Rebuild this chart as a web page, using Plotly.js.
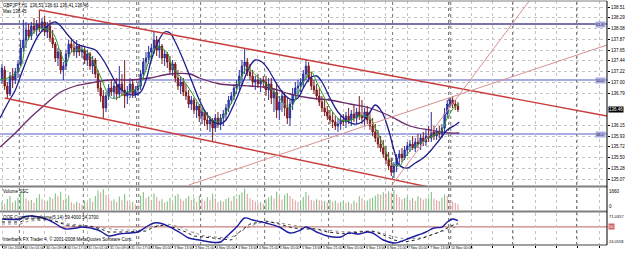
<!DOCTYPE html>
<html><head><meta charset="utf-8">
<script src="https://cdn.plot.ly/plotly-3.0.1.min.js"></script>
<style>html,body{margin:0;padding:0;background:#fff}#c{width:625px;height:253px}</style>
</head><body><div id="c"></div><script>
const openP=[137.05,137.25,136.93,136.77,137.13,137.05,137.21,137.37,137.69,137.85,
138.05,137.93,138.13,138.05,138.17,138.09,138.21,138.01,138.13,137.89,
137.77,137.49,137.61,137.25,137.33,137.57,137.77,137.69,137.61,137.73,
137.61,137.65,137.45,137.57,137.33,137.45,137.17,136.89,136.73,136.49,
136.73,136.89,136.81,136.93,136.77,136.97,136.85,136.73,136.81,136.97,
136.77,136.85,136.93,137.17,137.41,137.49,137.61,137.69,137.85,137.65,
137.73,137.49,137.57,137.41,137.25,137.37,137.09,136.93,137.01,136.81,
136.73,136.57,136.65,136.45,136.53,136.33,136.41,136.25,136.17,136.25,
136.09,136.29,136.17,136.29,136.37,136.49,136.65,136.73,136.89,136.97,
137.13,137.33,137.41,137.21,137.13,137.01,137.05,136.97,137.05,137.01,
136.85,136.97,136.69,136.81,136.45,136.61,136.73,136.49,136.29,136.57,
136.77,136.89,136.93,137.01,137.17,137.33,137.09,136.93,136.85,136.73,
136.61,136.49,136.41,136.33,136.25,136.21,136.13,136.17,136.25,136.21,
136.33,136.25,136.37,136.29,136.41,136.33,136.29,136.41,136.25,136.13,
136.01,135.89,135.77,135.69,135.57,135.45,135.33,135.21,135.33,135.49,
135.57,135.49,135.65,135.73,135.77,135.69,135.81,135.77,135.89,135.81,
135.93,135.89,136.01,135.93,136.01,135.97,136.09,136.37,136.57,136.65,
136.57,136.53];
const highP=[137.37,137.33,137.01,137.21,137.29,137.29,137.45,137.85,138.25,138.21,
138.17,138.21,138.29,138.25,138.45,138.29,138.33,138.21,138.25,138.05,
137.81,137.69,137.65,137.41,137.65,137.85,137.89,137.81,137.85,137.77,
137.73,137.73,137.65,137.61,137.53,137.49,137.25,137.01,136.85,136.81,
136.97,137.05,137.01,137.09,137.33,137.17,137.45,136.93,137.09,137.05,
136.93,137.01,137.25,137.49,137.61,137.73,137.77,138.01,137.93,137.85,
137.77,137.65,137.61,137.53,137.45,137.41,137.25,137.13,137.09,136.97,
136.85,136.73,136.69,136.61,136.57,136.49,136.45,136.41,136.33,136.29,
136.37,136.41,136.37,136.45,136.57,136.73,136.81,136.97,137.05,137.25,
137.45,137.69,137.49,137.37,137.25,137.13,137.17,137.09,137.13,137.13,
137.09,137.09,136.89,137.01,136.73,136.85,136.81,136.69,136.65,136.89,
137.01,137.05,137.09,137.25,137.45,137.41,137.21,137.05,136.97,136.89,
136.73,136.65,136.53,136.45,136.41,136.33,136.29,136.33,136.37,136.41,
136.49,136.45,136.57,136.49,136.73,136.65,136.49,136.53,136.41,136.29,
136.17,136.05,135.93,135.85,135.73,135.61,135.49,135.41,135.57,135.65,
135.69,135.73,135.81,135.85,135.93,135.89,135.97,135.97,136.01,136.05,
136.13,136.41,136.13,136.09,136.13,136.17,136.49,136.65,136.69,136.73,
136.65,136.61];
const lowP=[136.97,136.85,136.69,136.73,136.89,136.97,137.09,137.33,137.61,137.69,
137.85,137.85,137.97,137.93,138.01,138.01,137.93,137.89,137.81,137.69,
137.41,137.33,137.17,137.05,137.25,137.49,137.61,137.53,137.49,137.53,
137.49,137.37,137.33,137.25,137.17,137.09,136.81,136.61,136.29,136.41,
136.65,136.73,136.69,136.65,136.69,136.73,136.49,136.57,136.69,136.69,
136.69,136.73,136.85,137.09,137.25,137.37,137.45,137.57,137.53,137.49,
137.37,137.33,137.29,137.17,137.13,137.01,136.85,136.77,136.73,136.65,
136.49,136.45,136.37,136.29,136.21,136.17,136.13,136.05,136.01,135.81,
136.01,136.09,136.05,136.13,136.25,136.41,136.57,136.65,136.77,136.85,
136.93,137.17,137.13,137.05,136.93,136.85,136.89,136.81,136.89,136.73,
136.65,136.57,136.41,136.29,136.25,136.41,136.33,136.17,136.13,136.45,
136.65,136.73,136.81,136.89,137.05,137.01,136.85,136.77,136.65,136.53,
136.41,136.33,136.25,136.17,136.09,136.05,136.01,136.05,136.13,136.09,
136.17,136.13,136.21,136.17,136.25,136.17,136.13,136.17,136.05,135.93,
135.81,135.69,135.61,135.49,135.37,135.25,135.13,135.09,135.21,135.37,
135.41,135.45,135.53,135.61,135.65,135.61,135.69,135.65,135.73,135.73,
135.81,135.81,135.85,135.85,135.89,135.89,136.01,136.29,136.49,136.49,
136.45,136.41];
const closeP=[137.29,136.93,136.77,137.13,137.05,137.21,137.37,137.69,137.85,138.05,
137.93,138.13,138.05,138.17,138.09,138.21,138.01,138.13,137.89,137.77,
137.49,137.61,137.25,137.33,137.57,137.77,137.69,137.61,137.73,137.61,
137.65,137.45,137.57,137.33,137.45,137.17,136.89,136.73,136.49,136.73,
136.89,136.81,136.93,136.77,136.97,136.85,136.73,136.81,136.97,136.77,
136.85,136.93,137.17,137.41,137.49,137.61,137.69,137.85,137.65,137.73,
137.49,137.57,137.41,137.25,137.37,137.09,136.93,137.01,136.81,136.73,
136.57,136.65,136.45,136.53,136.33,136.41,136.25,136.17,136.25,136.09,
136.29,136.17,136.29,136.37,136.49,136.65,136.73,136.89,136.97,137.13,
137.33,137.41,137.21,137.13,137.01,137.05,136.97,137.05,137.01,136.85,
136.97,136.69,136.81,136.45,136.61,136.73,136.49,136.29,136.57,136.77,
136.89,136.93,137.01,137.17,137.33,137.09,136.93,136.85,136.73,136.61,
136.49,136.41,136.33,136.25,136.21,136.13,136.17,136.25,136.21,136.33,
136.25,136.37,136.29,136.41,136.33,136.29,136.41,136.25,136.13,136.01,
135.89,135.77,135.69,135.57,135.45,135.33,135.21,135.33,135.49,135.57,
135.49,135.65,135.73,135.77,135.69,135.81,135.77,135.89,135.81,135.93,
135.89,136.01,135.93,136.01,135.97,136.09,136.37,136.57,136.65,136.57,
136.53,136.46];
const volume=[620,480,830,1050,560,720,940,1280,1420,880,
690,760,540,910,1190,820,640,700,980,860,
1250,1040,1380,760,920,1100,580,470,650,530,
410,720,560,880,640,1060,1480,1320,1560,1130,
940,700,820,610,1020,760,1180,690,540,620,
430,380,1080,1350,900,1010,760,1240,980,700,
820,560,640,900,530,1070,1210,830,690,880,
1050,760,940,620,1100,850,700,960,780,1240,
890,610,720,640,830,950,700,1060,880,1150,
1320,1600,1200,880,760,640,520,600,470,820,
940,1100,860,1370,1020,790,1150,1280,1060,840,
720,610,680,980,1350,1120,760,690,820,740,
620,700,560,780,640,720,530,600,680,550,
620,480,700,560,1040,880,640,720,850,930,
1080,1210,1150,1340,1240,1420,1300,1530,1180,960,
820,900,1020,760,880,690,1040,930,780,860,
920,1350,870,740,680,930,1190,1060,760,640,
520,430];
// moving averages (bar index, price)
const fastMAx=[-0.7,3,7,9,12,15,19,22,24,26,28,31,34,37,39,41,43,47,51,53,57,59,62,64,68,71,74,78,81,84,87,89,92,94,97,100,103,106,108,111,113,116,118,121,124,127,131,134,138,140,143,146,149,151,154,157,160,163,165,167,170,171.5];
const fastMAy=[137.05,137.11,137.31,137.79,138.01,138.09,137.99,137.59,137.39,137.61,137.65,137.65,137.45,137.11,136.85,136.69,136.69,136.81,136.89,137.11,137.65,137.71,137.59,137.31,137.05,136.81,136.55,136.29,136.21,136.41,136.69,137.01,137.29,137.21,137.05,136.93,136.75,136.57,136.49,136.77,137.01,137.21,137.01,136.69,136.41,136.25,136.25,136.33,136.29,136.09,135.75,135.41,135.33,135.49,135.69,135.79,135.89,135.97,136.05,136.29,136.53,136.57];
const midMAx=[-0.7,2,5,7.5,10.5,14,18,20,22,25,28,31.5,35,38,40.5,43.5,46.5,49.5,52,54,56,58.5,61,63,65,68,71,74,77,79.5,82,84,86,88.5,91,93,95,97.5,100,103,106,109,111,113,115.5,118,120,123,126,129,132,135,138,140,142.5,145,147,149,152,155,158,161,164,167,170,171.5];
const midMAy=[136.29,136.57,136.85,137.21,137.61,137.97,138.17,138.21,138.13,137.93,137.77,137.71,137.65,137.45,137.21,136.93,136.79,136.75,136.81,137.05,137.45,137.81,138.01,137.99,137.81,137.45,137.05,136.65,136.35,136.21,136.17,136.25,136.45,136.75,137.09,137.33,137.45,137.41,137.25,136.97,136.75,136.65,136.69,136.89,137.09,137.13,137.01,136.69,136.41,136.25,136.17,136.21,136.41,136.55,136.41,136.05,135.65,135.35,135.29,135.39,135.49,135.65,135.85,136.05,136.15,136.21];
const slowMAx=[-0.7,5,10.5,16,22,27.5,33,40.5,48,55.5,63,70.5,74,81.75,93,100.5,108,115.5,123,130.5,138,145.5,153,160.5,168,171.5];
const slowMAy=[135.71,135.99,136.29,136.55,136.81,136.93,136.99,137.05,137.05,137.09,137.17,137.17,137.09,136.97,136.93,136.89,136.77,136.69,136.65,136.57,136.49,136.33,136.13,136.05,135.99,135.99];
// oscillator (QQE)
const qqeX=[0,7,8,14,19,22,24,28,30,36,38,40,44,48,51,54,57,59,63,67,70,74,78,82,84,88,91,94,99,104,108,112,114,118,122,127,130,134,137,139,143,147,149,153,156,159,162,165,167,169,171];
const qqeY=[61.95,61.95,64.98,64.98,57.40,49.82,46.79,48.31,49.82,45.28,40.73,36.18,39.22,40.73,42.25,49.82,55.89,55.89,49.82,40.73,33.15,30.12,27.09,27.09,34.67,49.82,63.46,60.43,55.89,49.82,40.73,45.28,49.82,42.25,36.18,34.67,40.73,39.22,42.25,40.73,30.12,25.58,27.09,33.15,37.70,42.25,48.31,49.82,57.40,61.95,59.40];
const trailAx=[0,7,9,16,20,24,27,33,37,40,46,51,54,57,61,65,69,72,78,83,86,89,93,99,104,109,114,118,122,129,134,139,144,147,151,155,159,164,167,170,171];
const trailAy=[57.40,57.40,61.95,61.95,58.92,52.85,51.34,51.34,46.79,42.25,42.25,43.76,43.76,49.82,52.85,48.31,42.25,36.18,33.15,31.64,30.12,42.25,54.37,58.92,54.37,48.31,46.79,46.79,42.25,39.22,42.25,43.76,36.18,30.12,27.09,30.12,34.67,42.25,48.31,54.37,54.37];
const trailBx=[0,7,10,17,21,25,29,35,39,44,52,57,62,67,71,76,84,87,91,96,102,110,115,121,129,136,141,146,151,157,162,168,171];
const trailBy=[54.37,54.37,58.92,60.43,57.40,54.37,52.85,49.82,46.79,45.28,45.28,51.34,54.37,49.82,42.25,36.18,33.15,36.18,46.79,55.89,57.40,51.34,48.31,45.28,42.25,43.76,42.25,36.18,31.64,33.15,39.22,46.79,51.34];
// drawn objects (bar index / price)
const trendX0=[14,1,70.1,146.2], trendY0=[138.45,136.69,134.95,134.95];
const trendX1=[226.9,160,226.9,198], trendY1=[136.33,134.91,137.75,138.65];
const levelP=[138.17,137.05,135.97];
const levelTxt=['61.8','50.0','38.2'];
const qqeLevel=50;
const daySep=[7,31,51,75,99,123,147,168,192,216];
const weekSep=[51,168];
const tickBars=[0,8,16,24,32,40,48,56,64,72,80,88,96,104,112,120,128,136,144,152,160,168,176,184,192,200,208,216,224];
const tickText=["29 Oct 2008","30 Oct 01:00","30 Oct 09:00","30 Oct 17:00","31 Oct 01:00","31 Oct 09:00","31 Oct 17:00","3 Nov 05:00","3 Nov 13:00","3 Nov 21:00","4 Nov 05:00","4 Nov 13:00","4 Nov 21:00","5 Nov 05:00","5 Nov 13:00","5 Nov 21:00","6 Nov 05:00","6 Nov 13:00","6 Nov 21:00","7 Nov 05:00","7 Nov 13:00","10 Nov 00:00","","","","","","",""];
const priceTick0=138.51, priceStep=0.215;

const idx=closeP.map((_,i)=>i);
const F='Liberation Sans Narrow, Liberation Sans, Arial, sans-serif';
const lastClose=closeP[closeP.length-1];
const traces=[];
traces.push({type:'candlestick',x:idx,open:openP,high:highP,low:lowP,close:closeP,
  increasing:{line:{color:'#2a2f9a',width:1},fillcolor:'#3140c8'},
  decreasing:{line:{color:'#7a1a1a',width:1},fillcolor:'#9b1c1c'},
  whiskerwidth:0,hoverinfo:'skip',showlegend:false,xaxis:'x',yaxis:'y'});
traces.push({type:'scatter',mode:'lines',x:slowMAx,y:slowMAy,line:{color:'#6a2a6a',width:1.3,shape:'spline'},hoverinfo:'skip',showlegend:false,yaxis:'y'});
traces.push({type:'scatter',mode:'lines',x:midMAx,y:midMAy,line:{color:'#1c1c8c',width:1.3,shape:'spline'},hoverinfo:'skip',showlegend:false,yaxis:'y'});
traces.push({type:'scatter',mode:'lines',x:fastMAx,y:fastMAy,line:{color:'#2aa02a',width:1,shape:'spline'},hoverinfo:'skip',showlegend:false,yaxis:'y'});
const tCol=['#c83c3c','#c83c3c','#d89090','#d89090'];
const tW=[1.4,1.4,1,1];
for(let k=0;k<trendX0.length;k++){
  traces.push({type:'scatter',mode:'lines',x:[trendX0[k],trendX1[k]],y:[trendY0[k],trendY1[k]],line:{color:tCol[k],width:tW[k]},hoverinfo:'skip',showlegend:false,yaxis:'y'});
}
const volCol=volume.map((v,i)=> (i>0 && v<volume[i-1]) ? '#e0a0a0' : '#7fbf7f');
traces.push({type:'bar',x:idx,y:volume,width:0.4,marker:{color:volCol,line:{width:0}},hoverinfo:'skip',showlegend:false,yaxis:'y2'});
traces.push({type:'scatter',mode:'lines',x:trailBx,y:trailBy,line:{color:'#909090',width:1,dash:'dot'},hoverinfo:'skip',showlegend:false,yaxis:'y3'});
traces.push({type:'scatter',mode:'lines',x:trailAx,y:trailAy,line:{color:'#202020',width:1,dash:'dot'},hoverinfo:'skip',showlegend:false,yaxis:'y3'});
traces.push({type:'scatter',mode:'lines',x:qqeX,y:qqeY,line:{color:'#1c1ca0',width:1.4,shape:'spline'},hoverinfo:'skip',showlegend:false,yaxis:'y3'});

const shapes=[];
levelP.forEach((p,k)=>{
  shapes.push({type:'line',xref:'paper',x0:0,x1:1,yref:'y',y0:p,y1:p,layer:'below',
    line:{color:k===0?'#4a4a90':'#a8ace6',width:k===0?1.3:2}});
});
shapes.push({type:'line',xref:'paper',x0:0,x1:1,yref:'y3',y0:qqeLevel,y1:qqeLevel,layer:'below',line:{color:'#c06060',width:1}});
daySep.forEach(b=>{
  shapes.push({type:'line',xref:'x',x0:b-0.5,x1:b-0.5,yref:'paper',y0:0,y1:1,layer:'below',line:{color:'#707070',width:1,dash:'dot'}});
});
weekSep.forEach(b=>{
  shapes.push({type:'line',xref:'x',x0:b+0.3,x1:b+0.3,yref:'paper',y0:0,y1:1,layer:'below',line:{color:'#707070',width:1,dash:'dot'}});
});
[0.2398,0.1373].forEach(y=>shapes.push({type:'line',xref:'paper',x0:0,x1:1,yref:'paper',y0:y,y1:y,line:{color:'#808080',width:2}}));
shapes.push({type:'line',xref:'paper',x0:0,x1:1,yref:'paper',y0:0,y1:0,line:{color:'#808080',width:1.5}});
shapes.push({type:'line',xref:'paper',x0:0,x1:1,yref:'paper',y0:1,y1:1,line:{color:'#808080',width:1}});
shapes.push({type:'line',xref:'paper',x0:1,x1:1,yref:'paper',y0:0,y1:1,line:{color:'#000',width:1}});

const pTicks=[];
for(let p=priceTick0;p>134.93;p-=priceStep){ if(Math.abs(p-lastClose)>0.12) pTicks.push(+p.toFixed(3)); }

const ann=[];
const A=(o)=>Object.assign({showarrow:false,font:{family:F,size:4.5,color:'#000'},borderpad:0},o);
ann.push(A({xref:'paper',yref:'paper',x:0.004,y:1,yanchor:'top',xanchor:'left',yshift:-1,
  text:'GBPJPY,H1  '+openP[171].toFixed(2)+' '+highP[171].toFixed(2)+' '+lowP[171].toFixed(2)+' '+lastClose.toFixed(2)}));
ann.push(A({xref:'paper',yref:'paper',x:0.004,y:1,yanchor:'top',xanchor:'left',yshift:-7,text:'Max 138.45'}));
ann.push(A({xref:'paper',yref:'y',x:1,y:lastClose,xanchor:'left',bgcolor:'#000',font:{family:F,size:4.5,color:'#fff'},text:lastClose.toFixed(2),xshift:1}));
levelP.forEach((p,k)=>ann.push(A({xref:'paper',yref:'y',x:1,y:p,xanchor:'right',xshift:-1,bgcolor:'#aab0e6',font:{family:F,size:4,color:'#223'},text:levelTxt[k]})));
ann.push(A({xref:'paper',yref:'paper',x:0.004,y:0.2336,yanchor:'top',xanchor:'left',text:'Volume SSC'}));
ann.push(A({xref:'paper',yref:'paper',x:1,y:0.2336,yanchor:'top',xanchor:'left',xshift:1,text:'1660'}));
ann.push(A({xref:'paper',yref:'paper',x:1,y:0.1434,yanchor:'bottom',xanchor:'left',xshift:1,text:'0'}));
ann.push(A({xref:'paper',yref:'paper',x:0.004,y:0.1311,yanchor:'top',xanchor:'left',yshift:-1,text:'QQE Current Timeframe(5,14) '+qqeY[qqeY.length-1].toFixed(4)+' '+trailAy[trailAy.length-1].toFixed(4)}));
ann.push(A({xref:'paper',yref:'paper',x:0.004,y:0,yanchor:'bottom',xanchor:'left',yshift:2,text:'Interbank FX Trader 4, © 2001-2008 MetaQuotes Software Corp.'}));
ann.push(A({xref:'paper',yref:'paper',x:1,y:0.1311,yanchor:'top',xanchor:'left',xshift:1,font:{family:F,size:4,color:'#000'},text:'71.0357'}));
ann.push(A({xref:'paper',yref:'paper',x:1,y:0,yanchor:'bottom',xanchor:'left',xshift:1,font:{family:F,size:4,color:'#000'},text:'24.0558'}));
ann.push(A({xref:'paper',yref:'y3',x:1,y:qqeLevel,xanchor:'left',xshift:1,bgcolor:'#d06060',font:{family:F,size:4,color:'#fff'},text:'50'}));
tickBars.forEach((b,k)=>{ if(tickText[k]) ann.push(A({xref:'x',yref:'paper',x:b,y:0,yanchor:'top',xanchor:'left',xshift:0,yshift:0,font:{family:F,size:3.6,color:'#000'},text:tickText[k]})); });

const layout={
  width:625,height:253,margin:{l:0,r:18,t:1,b:8},
  paper_bgcolor:'#fff',plot_bgcolor:'#fff',showlegend:false,
  font:{family:F,size:5,color:'#000'},
  xaxis:{range:[-0.75,226.9],anchor:'y3',tickmode:'array',tickvals:tickBars,ticktext:tickText,showticklabels:false,
    showgrid:true,gridcolor:'#c4c4c4',griddash:'dot',gridwidth:1,zeroline:false,showline:false,
    ticks:'outside',ticklen:2,tickcolor:'#000',rangeslider:{visible:false},fixedrange:true},
  yaxis:{domain:[0.2418,1],range:[134.93,138.63],side:'right',tickmode:'array',tickvals:pTicks,
    tickformat:'.2f',showgrid:true,gridcolor:'#c4c4c4',griddash:'dot',gridwidth:1,zeroline:false,
    ticks:'outside',ticklen:2,tickcolor:'#000',tickfont:{family:F,size:4.5},fixedrange:true},
  yaxis2:{domain:[0.1434,0.2336],range:[0,1660],side:'right',showticklabels:false,showgrid:false,zeroline:false,fixedrange:true},
  yaxis3:{domain:[0,0.1311],range:[22.54,71.04],side:'right',showticklabels:false,showgrid:false,zeroline:false,fixedrange:true},
  shapes:shapes,annotations:ann
};
Plotly.newPlot('c',traces,layout,{staticPlot:true,displayModeBar:false});
</script></body></html>
